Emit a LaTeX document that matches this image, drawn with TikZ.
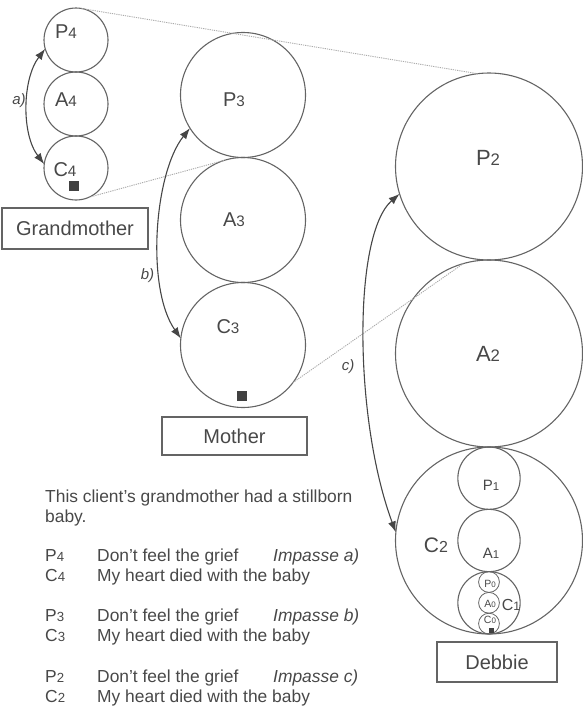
\documentclass[tikz,border=0pt]{standalone}
\usepackage{fontspec}
\setmainfont{Liberation Sans}
\usepackage{graphicx}
\usetikzlibrary{arrows.meta}

\definecolor{ink}{RGB}{72,72,72}
\definecolor{rim}{RGB}{100,100,100}
\definecolor{guide}{RGB}{170,170,170}
\definecolor{arrowcol}{RGB}{70,70,70}

% ego-state label: letter followed by a smaller index on the baseline
\newcommand\ego[2]{#1\scalebox{0.76}{#2}}
\newcommand\fs[1]{\fontsize{#1}{#1}\selectfont}

\begin{document}
\begin{tikzpicture}[x=1pt,y=-1pt,
  ring/.style={circle,draw=rim,line width=1.1pt,inner sep=0pt,outer sep=0pt,minimum size=#1},
  lab/.style={inner sep=0pt,text=ink},
  mark/.style={fill=ink!90!black,inner sep=0pt,minimum size=#1},
  namebox/.style={draw=rim,line width=1.2pt,inner sep=0pt,text=ink,font=\fs{20}},
  conn/.style={draw=arrowcol,line width=1.1pt,{Latex[length=11pt,width=8pt]}-{Latex[length=11pt,width=8pt]}},
  guideline/.style={draw=guide,line width=0.9pt,dash pattern=on 1.2pt off 1pt},
  txt/.style={inner sep=0pt,anchor=base west,text=ink,font=\fs{17.4}},
  tag/.style={inner sep=0pt,text=ink,font=\fs{15}\itshape}]

\useasboundingbox (0,0) rectangle (582,707);

% Grandmother
\node[ring=64pt] (P4) at (76,40) {};
\node[ring=64pt] (A4) at (76,104) {};
\node[ring=64pt] (C4) at (76,168) {};
\node[lab,font=\fs{20}] (tP4) at (66,32) {\ego{P}{4}};
\node[lab,font=\fs{20}] (tA4) at (66,100) {\ego{A}{4}};
\node[lab,font=\fs{20}] (tC4) at (65,170) {\ego{C}{4}};
\node[mark=10pt] (sq4) at (73.5,185.5) {};
\node[namebox,minimum width=146pt,minimum height=41pt] (gm) at (75,228.5) {Grandmother};

% Mother
\node[ring=125pt] (P3) at (243,95) {};
\node[ring=125pt] (A3) at (243,220) {};
\node[ring=125pt] (C3) at (243,345) {};
\node[lab,font=\fs{20}] (tP3) at (234,100) {\ego{P}{3}};
\node[lab,font=\fs{20}] (tA3) at (234,220) {\ego{A}{3}};
\node[lab,font=\fs{20}] (tC3) at (228,327) {\ego{C}{3}};
\node[mark=10pt] (sq3) at (242,396) {};
\node[namebox,minimum width=145pt,minimum height=38pt] (mo) at (234.5,436) {Mother};

% Debbie
\node[ring=187pt] (P2) at (489,166.5) {};
\node[ring=187pt] (A2) at (489,353.5) {};
\node[ring=187pt] (C2) at (489,540.5) {};
\node[lab,font=\fs{22}] (tP2) at (488,158) {\ego{P}{2}};
\node[lab,font=\fs{22}] (tA2) at (488,354) {\ego{A}{2}};
\node[lab,font=\fs{21}] (tC2) at (436,545) {\ego{C}{2}};

\node[ring=62.3pt] (P1) at (489,478.2) {};
\node[ring=62.3pt] (A1) at (489,540.5) {};
\node[ring=62.3pt] (C1) at (489,602.8) {};
\node[lab,font=\fs{15}] (tP1) at (491,485) {\ego{P}{1}};
\node[lab,font=\fs{15}] (tA1) at (491,553) {\ego{A}{1}};
\node[lab,font=\fs{16}] (tC1) at (511,605) {\ego{C}{1}};

\node[ring=20.8pt,line width=0.8pt] (P0) at (489,582) {};
\node[ring=20.8pt,line width=0.8pt] (A0) at (489,602.8) {};
\node[ring=20.8pt,line width=0.8pt] (C0) at (489,623.6) {};
\node[lab,font=\fs{10.5}] (tP0) at (490,584) {\ego{P}{0}};
\node[lab,font=\fs{10.5}] (tA0) at (490,604) {\ego{A}{0}};
\node[lab,font=\fs{10.5}] (tC0) at (490,620) {\ego{C}{0}};
\node[mark=5pt] (sq0) at (491,630.5) {};
\node[namebox,minimum width=120pt,minimum height=40pt] (de) at (497,662) {Debbie};

% projection guides between the generations
\draw[guideline] (P4.80) -- (P2.97);
\draw[guideline] (C4.294) -- (A3.105);
\draw[guideline] (C3.-37) -- (A2.106);

% impasses
\draw[conn] (P4.196) .. controls +(-23,30) and +(-23,-30) .. (C4.173);
\draw[conn] (P3.212) .. controls +(-36,45) and +(-35,-50) .. (C3.174);
\draw[conn] (P2.197) .. controls +(-47,41) and +(-42,-113) .. (C2.175);
\node[tag] (ta) at (19,101) {a)};
\node[tag] (tb) at (147.5,276) {b)};
\node[tag] (tc) at (348,367) {c)};

% script notes
\node[txt] (n1) at (45,502) {This client's grandmother had a stillborn};
\node[txt] (n2) at (45,522) {baby.};
\node[txt] (k1) at (45,561) {\ego{P}{4}};
\node[txt] (s1) at (97,561) {Don't feel the grief};
\node[txt,font=\fs{17.4}\itshape] (i1) at (273,561) {Impasse a)};
\node[txt] (k2) at (45,581) {\ego{C}{4}};
\node[txt] (s2) at (97,581) {My heart died with the baby};
\node[txt] (k3) at (45,621.5) {\ego{P}{3}};
\node[txt] (s3) at (97,621.5) {Don't feel the grief};
\node[txt,font=\fs{17.4}\itshape] (i3) at (273,621.5) {Impasse b)};
\node[txt] (k4) at (45,641.5) {\ego{C}{3}};
\node[txt] (s4) at (97,641.5) {My heart died with the baby};
\node[txt] (k5) at (45,682) {\ego{P}{2}};
\node[txt] (s5) at (97,682) {Don't feel the grief};
\node[txt,font=\fs{17.4}\itshape] (i5) at (273,682) {Impasse c)};
\node[txt] (k6) at (45,702) {\ego{C}{2}};
\node[txt] (s6) at (97,702) {My heart died with the baby};
\end{tikzpicture}
\end{document}
